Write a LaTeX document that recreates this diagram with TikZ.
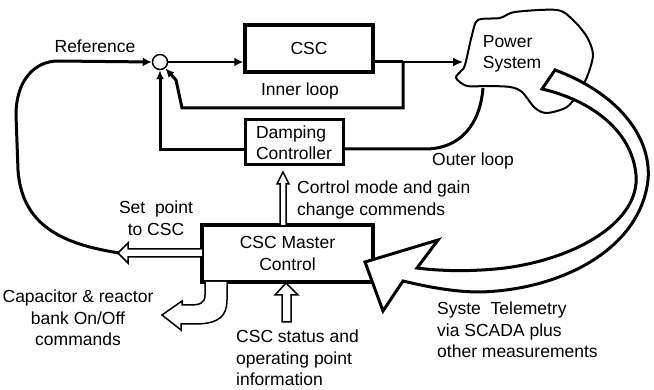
\documentclass[tikz,border=0pt]{standalone}
\usepackage{fontspec}
\setmainfont{Liberation Sans}
\usetikzlibrary{arrows.meta}

\begin{document}
\begin{tikzpicture}[%
      x=1pt, y=-1pt,
      every node/.style={font=\fontsize{17.5}{21.5}\selectfont, inner sep=0pt},
      blk/.style={draw=black, line width=3.5pt},
      wire/.style={draw=black, line width=3pt},
      hollow/.style={draw=black, line width=1.5pt, fill=white, line join=miter},
      ]
      \useasboundingbox (0,0) rectangle (654,390);

      \node [draw, circle, line width=1.5pt, minimum size=15pt] (sum) at (160,62) {};
      \node [blk, minimum width=128pt, minimum height=47pt] (csc) at (309,48.5) {CSC};
      \node [draw, line width=3pt, minimum width=98pt, minimum height=45pt, align=left] (damp) at (294,142.5) {Damping\\Controller};
      \node [blk, minimum width=171pt, minimum height=57pt, align=center] (master) at (287.5,253.5) {CSC Master\\Control};

      \draw [color=black, line width=2pt] plot [smooth cycle] coordinates {(465,65) (472,35) (478,20) (500,18) (515,12) (557,10) (573,20) (587,37) (593,55) (587,77) (578,93) (567,107) (547,113) (535,108) (522,92) (510,87) (487,86) (467,86) (456,78) (461,71)};
      \node [align=left] (ps) at (512,54) {Power\\System};
      \coordinate (psin) at (463,62);
      \coordinate (psout) at (483,88);
      \coordinate (branch) at (403,62);
      \coordinate (sptip) at (119,253);

      \node (ref) at (95,46) {Reference};
      \node (inner) at (300,91) {Inner loop};
      \node (outer) at (473,161) {Outer loop};
      \node [align=left, anchor=west] (cmd) at (297,200) {Cortrol mode and gain\\change commends};
      \node [align=center] (setpt) at (156,218) {Set\ \ point\\to CSC};
      \node [align=center] (cap) at (78,318) {Capacitor \& reactor\\bank On/Off\\commands};
      \node [align=left, anchor=west] (status) at (236,358) {CSC status and\\operating point\\information};
      \node [align=left, anchor=west] (tele) at (437,330) {Syste\ \ Telemetry\\via SCADA plus\\other measurements};

      \draw [wire, -{Latex[length=9pt,width=9pt]}] (sptip) .. controls (70,245) and (22,230) .. (18,170) -- (16,115) .. controls (16,80) and (35,61) .. (58,61) -- (sum.west);
      \draw [wire, line width=2.5pt, -{Latex[length=9pt,width=9pt]}] (sum.east) -- (sum.east -| csc.west);
      \draw [wire] (csc.east |- branch) -- (branch);
      \draw [color=black, line width=1.5pt, -{Latex[length=10pt,width=9pt]}] (branch) -- (psin);
      \draw [wire, -{Latex[length=9pt,width=8pt]}] (branch) -- (403,108) -- (182,108) -- (176,80) -- (sum.-50);
      \draw [wire] (psout) .. controls (480,125) and (460,149) .. (425,149) -- (damp.east |- 0,149);
      \draw [wire, -{Latex[length=9pt,width=8pt]}] (damp.west |- 0,150) -- (sum.south |- 0,150) -- (sum.south);

      \draw [hollow] (280,225) -- (280,184) -- (277,184) -- (283,172) -- (289,184) -- (286,184) -- (286,225);
      \draw [hollow] (202,249) -- (128,249) -- (128,243) -- (118,253) -- (128,263) -- (128,257) -- (202,257);
      \draw [hollow] (205,282) -- (205,295) .. controls (205,303) and (200,305) .. (190,305) -- (182,305) -- (182,301) -- (162,315) -- (181,330) -- (181,324) -- (195,324) .. controls (220,324) and (227,315) .. (227,300) -- (227,282);
      \draw [hollow] (282,322) -- (282,295) -- (275,295) -- (286,283) -- (298,295) -- (291,295) -- (291,322) -- cycle;

      \draw [color=black, line width=3pt, fill=white, line join=miter] (555,70) .. controls (615,92) and (652,135) .. (648,180) .. controls (640,250) and (560,290) .. (480,292) .. controls (450,292) and (420,285) .. (403,281) -- (383,311) -- (365,262) -- (438,240) -- (417,268) .. controls (440,271) and (470,272) .. (505,268) .. controls (580,258) and (640,220) .. (636,175) .. controls (632,130) and (590,100) .. (542,89) -- cycle;
\end{tikzpicture}
\end{document}
